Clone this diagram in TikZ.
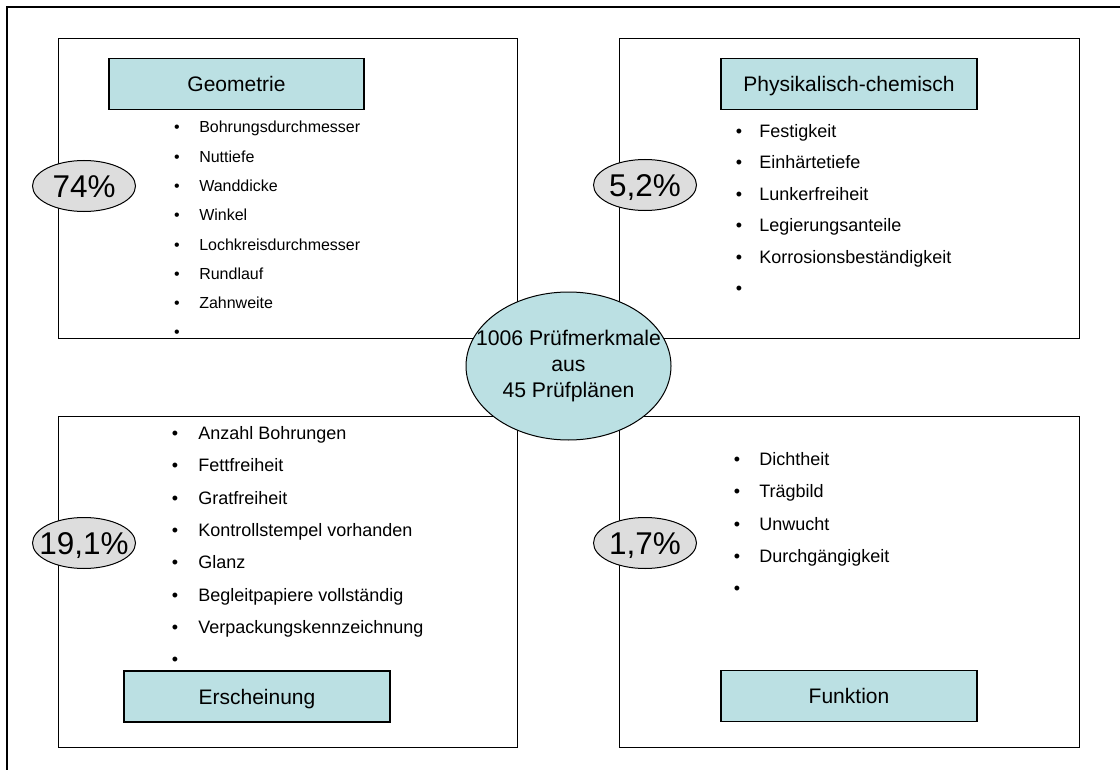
\documentclass[tikz,border=0pt]{standalone}
\usepackage{fontspec}
\setmainfont{Liberation Sans}
\usetikzlibrary{shapes.geometric}

\definecolor{headcyan}{RGB}{187,224,227}
\definecolor{sharegray}{RGB}{221,221,221}

\newcommand{\smalllistfont}{\fontsize{12}{14}\selectfont}
\newcommand{\listfont}{\fontsize{13.5}{16}\selectfont}

\tikzset{
  groupbox/.style={draw, line width=0.9pt, anchor=north west, inner sep=0},
  heading/.style={draw, line width=0.9pt, fill=headcyan, minimum height=51*0.75pt, inner sep=0, font=\fontsize{15.75}{18}\selectfont, text height=11.3pt, text depth=0pt},
  bulletdot/.style={anchor=base, inner sep=0},
  itemtext/.style={anchor=base west, inner sep=0},
  share/.style={ellipse, draw, line width=0.75pt, fill=sharegray, minimum width=103*0.75pt, minimum height=51*0.75pt, inner sep=0},
  sharetext/.style={inner sep=0, font=\fontsize{23.6}{28}\selectfont, text height=17pt, text depth=0pt},
  hub/.style={ellipse, draw, line width=0.75pt, fill=headcyan, minimum width=205*0.75pt, minimum height=148*0.75pt, inner sep=0},
  hubtext/.style={align=center, inner sep=0, font=\fontsize{15.9}{19.5}\selectfont},
}

\begin{document}
\begin{tikzpicture}[x=0.75pt, y=-0.75pt]
    \newcommand{\unit}{0.75pt}
    \useasboundingbox (0,0) rectangle (1120,770);

    % Draw outer frame
    \draw[line width=0.9pt] (7,770) -- (7,7) -- (1120,7);

    % Draw group boxes
    \node[groupbox, minimum width=459*\unit, minimum height=300*\unit] (geobox) at (58,38) {};
    \node[groupbox, minimum width=460*\unit, minimum height=300*\unit] (phybox) at (619,38) {};
    \node[groupbox, minimum width=459*\unit, minimum height=331*\unit] (ersbox) at (58,416) {};
    \node[groupbox, minimum width=460*\unit, minimum height=331*\unit] (funbox) at (619,416) {};

    % Draw headings
    \node[heading, minimum width=255*\unit] (geo) at (236.5,84) {Geometrie};
    \node[heading, minimum width=256*\unit] (phy) at (849,84) {Physikalisch-chemisch};
    \node[heading, minimum width=266*\unit] (ers) at (257,696.5) {Erscheinung};
    \node[heading, minimum width=256*\unit] (fun) at (849,696) {Funktion};

    % Draw item lists
    \foreach \txt [count=\k] in {Bohrungsdurchmesser,Nuttiefe,Wanddicke,Winkel,Lochkreisdurchmesser,Rundlauf,Zahnweite,{}} {
        \node[bulletdot, font=\smalllistfont] (geo-b\k) at (177,{127+(\k-1)*29.3+5.8}) {\textbullet};
        \node[itemtext, font=\smalllistfont] (geo-\k) at (199,{127+(\k-1)*29.3+5.8}) {\txt};
    }
    \foreach \txt [count=\k] in {Festigkeit,Einhärtetiefe,Lunkerfreiheit,Legierungsanteile,Korrosionsbeständigkeit,{}} {
        \node[bulletdot, font=\listfont] (phy-b\k) at (739,{131+(\k-1)*31.4+6.5}) {\textbullet};
        \node[itemtext, font=\listfont] (phy-\k) at (759,{131+(\k-1)*31.4+6.5}) {\txt};
    }
    \foreach \txt [count=\k] in {Anzahl Bohrungen,Fettfreiheit,Gratfreiheit,Kontrollstempel vorhanden,Glanz,Begleitpapiere vollständig,Verpackungskennzeichnung,{}} {
        \node[bulletdot, font=\listfont] (ers-b\k) at (175,{433+(\k-1)*32.3+6.5}) {\textbullet};
        \node[itemtext, font=\listfont] (ers-\k) at (198,{433+(\k-1)*32.3+6.5}) {\txt};
    }
    \foreach \txt [count=\k] in {Dichtheit,Trägbild,Unwucht,Durchgängigkeit,{}} {
        \node[bulletdot, font=\listfont] (fun-b\k) at (737,{459+(\k-1)*32.25+6.5}) {\textbullet};
        \node[itemtext, font=\listfont] (fun-\k) at (759,{459+(\k-1)*32.25+6.5}) {\txt};
    }

    % Draw shares
    \foreach \cx/\cy/\val/\nm in {84/186/74\%/geo, 645/185/{5,2\%}/phy, 84/543/{19,1\%}/ers, 645/543/{1,7\%}/fun} {
        \node[share] (\nm-share) at (\cx,\cy) {};
        \node[sharetext] (\nm-pct) at (\nm-share) {\val};
    }

    % Draw hub
    \node[hub] (hub) at (568.5,366) {};
    \node[hubtext] (hub-text) at (hub) {1006 Prüfmerkmale\\aus\\45 Prüfplänen};
\end{tikzpicture}
\end{document}
